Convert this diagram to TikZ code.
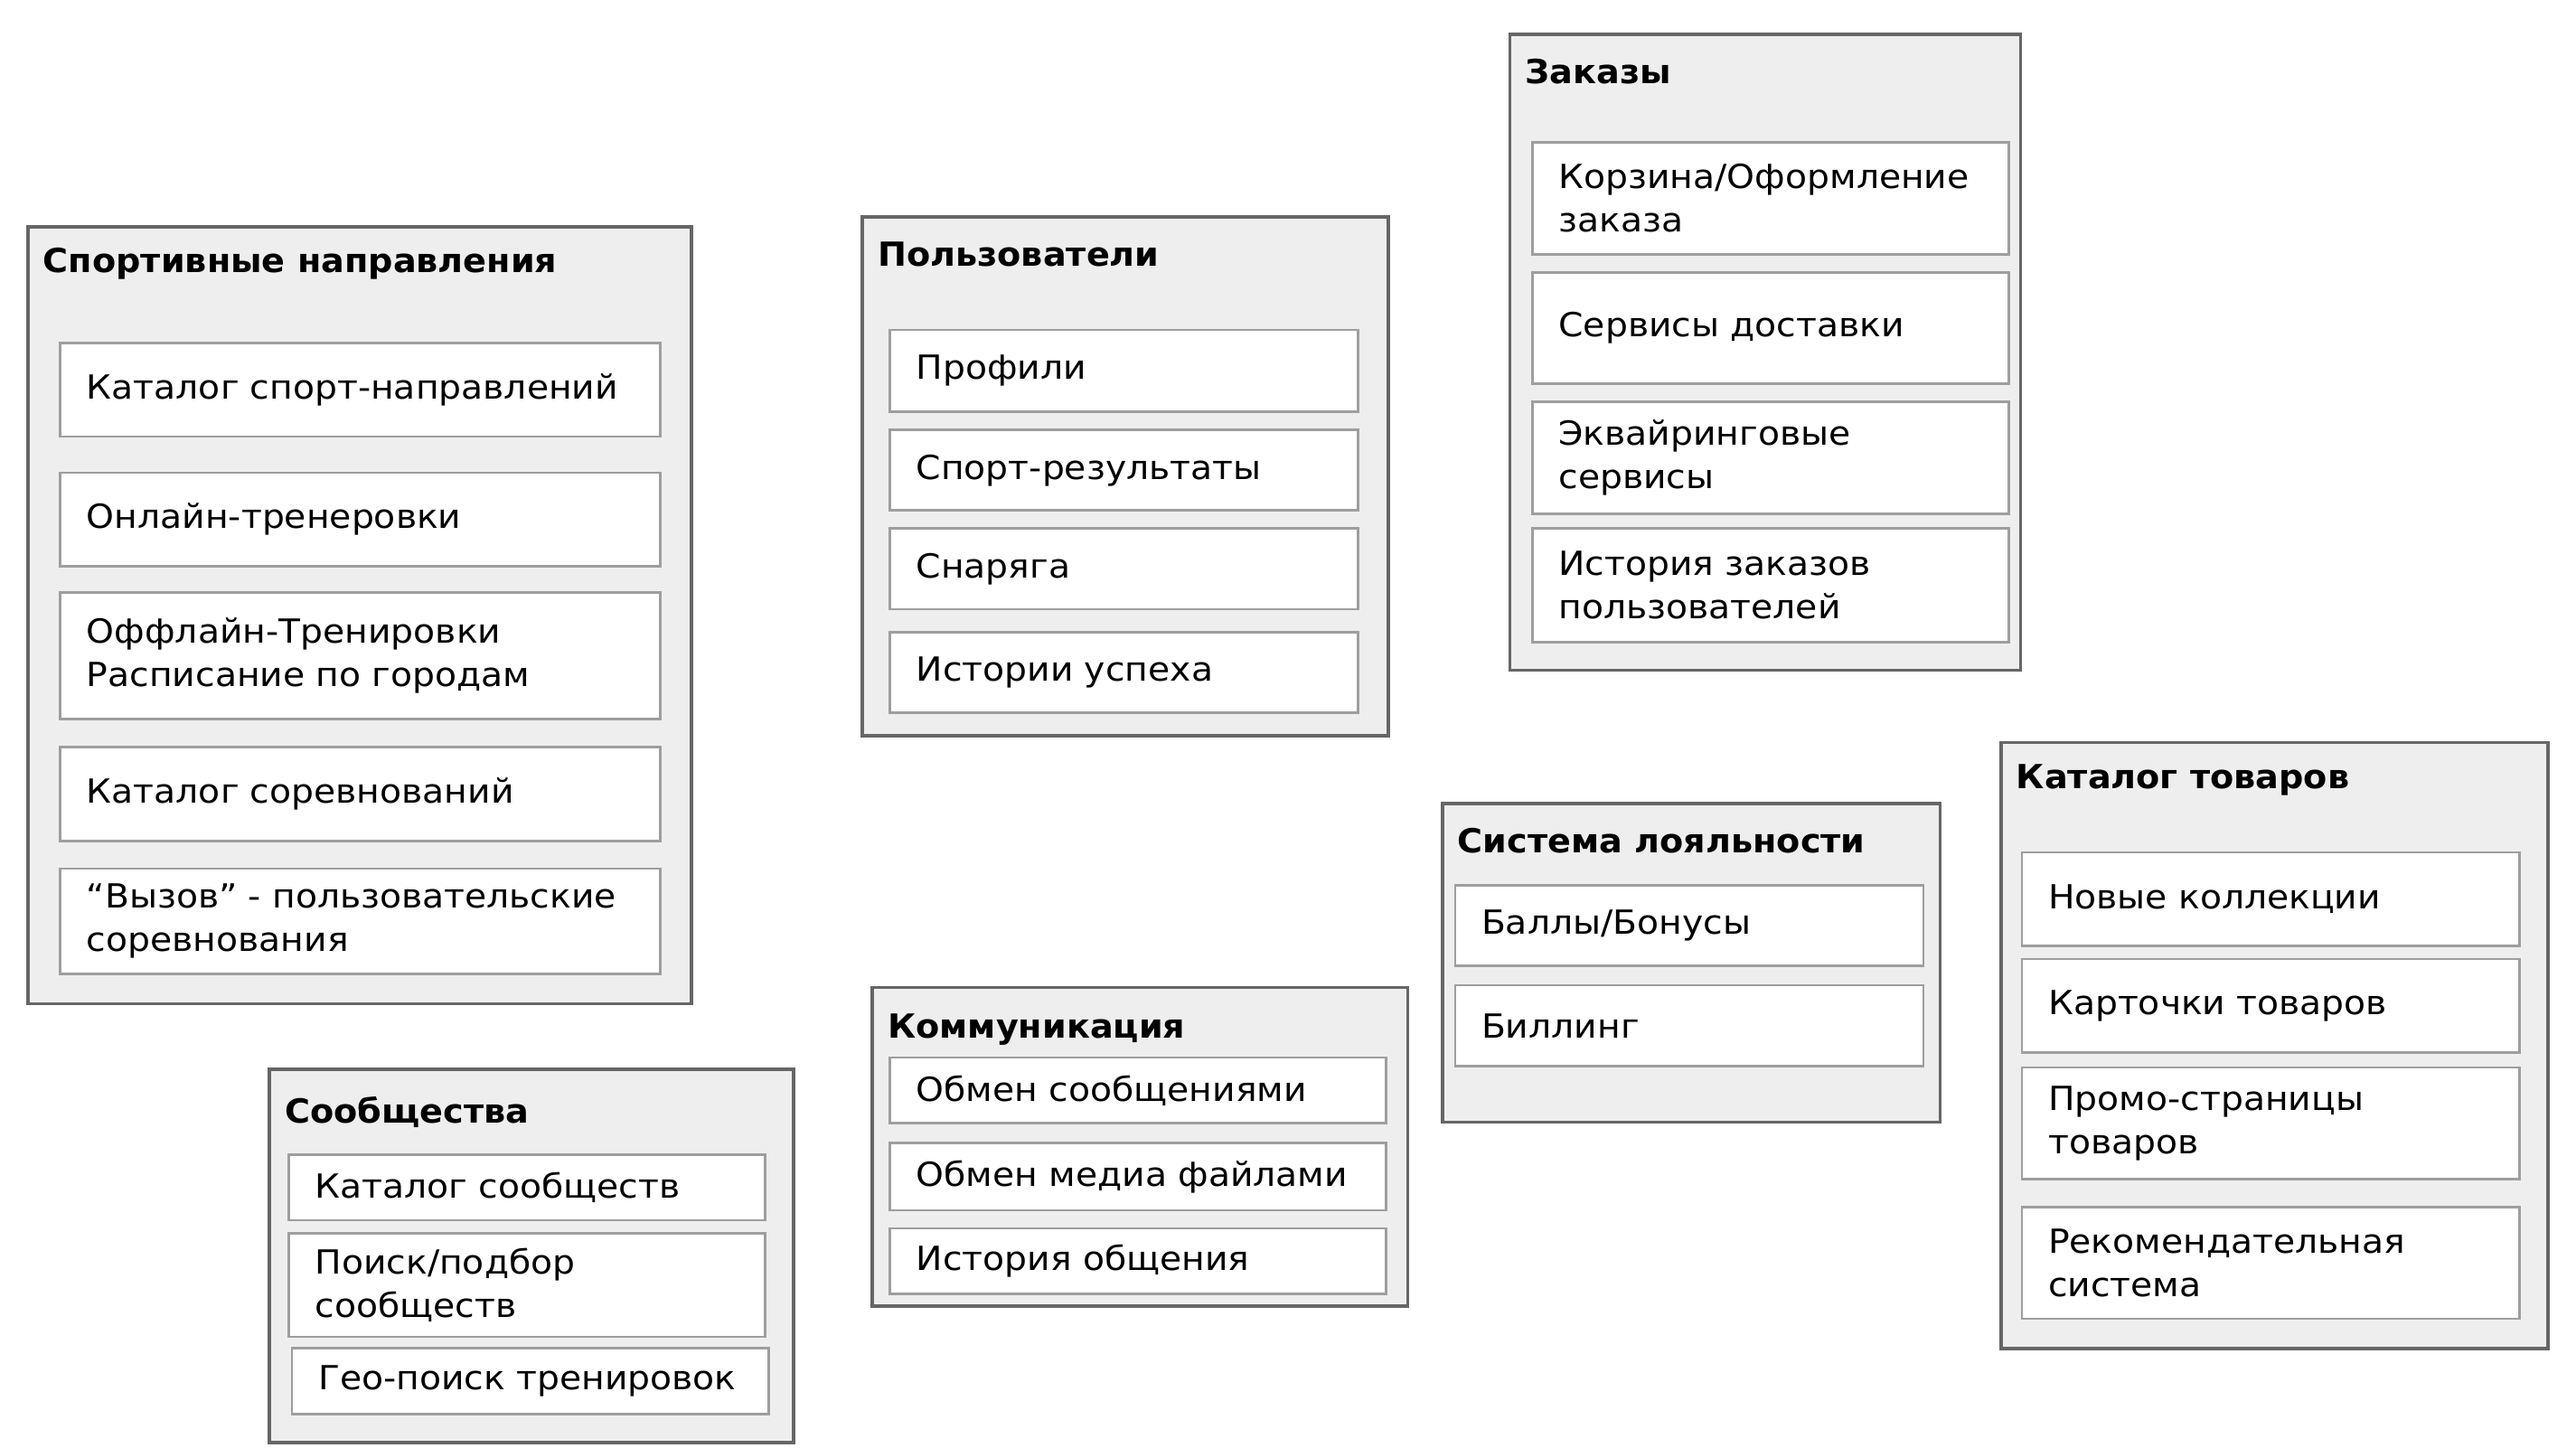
\documentclass[tikz,border=0pt]{standalone}
\usepackage{fontspec}
\setmainfont{DejaVu Sans}[FakeStretch=1.07]
\newfontfamily\titlefam{DejaVu Sans}[FakeStretch=1.04]
\usetikzlibrary{positioning}

\definecolor{grpfill}{HTML}{EEEEEE}
\definecolor{grpline}{HTML}{666666}
\definecolor{itemline}{HTML}{9E9E9E}

\newcommand{\itemfont}{\fontsize{11.5pt}{15pt}\selectfont}
\newcommand{\titlefont}{\titlefam\fontsize{11.5pt}{15pt}\selectfont\bfseries}

% group frame: name, x, y, width, height (layout units)
\newcommand{\grpbox}[5]{%
  \node[grp, minimum width={(#4)*0.02cm}, minimum height={(#5)*0.02cm}] (#1) at (#2,#3) {};}
% group title: name, x, y, text
\newcommand{\grptitle}[4]{%
  \node[ttl] (#1) at (#2,#3) {#4};}
% service box: name, x, y, width, height, text
\newcommand{\svcbox}[6]{%
  \node[svc, minimum width={(#4)*0.02cm}, text width={(#4-32)*0.02cm},
        minimum height={(#5)*0.02cm}] (#1) at (#2,#3) {#6};}

\tikzset{
  grp/.style={draw=grpline, fill=grpfill, line width=1.1pt, anchor=north west,
              inner sep=0pt, rectangle},
  ttl/.style={anchor=west, inner sep=0pt, font=\titlefont, yshift=-0.035cm},
  svc/.style={draw=itemline, fill=white, line width=0.85pt, anchor=north west,
              inner xsep=0.32cm, inner ysep=0pt, align=left, font=\itemfont,
              rectangle},
}

\begin{document}
\begin{tikzpicture}[x=0.02cm, y=-0.02cm]
  \fill[white] (0,0) rectangle (1568,881);
  \useasboundingbox (0,0) rectangle (1568,881);

  % Sports directions
  \grpbox{sport}{16}{137}{404}{473}
  \grptitle{sportT}{26}{159}{Спортивные направления}
  \svcbox{sport1}{36}{208}{365}{57}{Каталог спорт-направлений}
  \svcbox{sport2}{36}{287}{365}{57}{Онлайн-тренеровки}
  \svcbox{sport3}{36}{360}{365}{77}{Оффлайн-Тренировки\\Расписание по городам}
  \svcbox{sport4}{36}{454}{365}{57}{Каталог соревнований}
  \svcbox{sport5}{36}{528}{365}{64}{“Вызов” - пользовательские\\соревнования}

  % Users
  \grpbox{users}{524}{131}{320}{316}
  \grptitle{usersT}{534}{153}{Пользователи}
  \svcbox{users1}{541}{200}{285}{50}{Профили}
  \svcbox{users2}{541}{261}{285}{49}{Спорт-результаты}
  \svcbox{users3}{541}{321}{285}{49}{Снаряга}
  \svcbox{users4}{541}{384}{285}{49}{Истории успеха}

  % Orders
  \grpbox{orders}{918}{20}{311}{387}
  \grptitle{ordersT}{928}{42}{Заказы}
  \svcbox{orders1}{932}{86}{290}{68}{Корзина/Оформление\\заказа}
  \svcbox{orders2}{932}{165}{290}{68}{Сервисы доставки}
  \svcbox{orders3}{932}{244}{290}{68}{Эквайринговые\\сервисы}
  \svcbox{orders4}{932}{321}{290}{69}{История заказов\\пользователей}

  % Communities
  \grpbox{comm}{163}{650}{319}{227}
  \grptitle{commT}{173}{675}{Сообщества}
  \svcbox{comm1}{175}{702}{290}{40}{Каталог сообществ}
  \svcbox{comm2}{175}{750}{290}{63}{Поиск/подбор\\сообществ}
  \svcbox{comm3}{177}{820}{290}{40}{Гео-поиск тренировок}

  % Communication
  \grpbox{chat}{530}{600}{326}{194}
  \grptitle{chatT}{540}{625}{Коммуникация}
  \svcbox{chat1}{541}{643}{302}{40}{Обмен сообщениями}
  \svcbox{chat2}{541}{695}{302}{41}{Обмен медиа файлами}
  \svcbox{chat3}{541}{747}{302}{40}{История общения}

  % Loyalty
  \grpbox{loyal}{877}{488}{303}{194}
  \grptitle{loyalT}{887}{510}{Система лояльности}
  \svcbox{loyal1}{885}{538}{285}{49}{Баллы/Бонусы}
  \svcbox{loyal2}{885}{599}{285}{49}{Биллинг}

  % Product catalogue
  \grpbox{goods}{1217}{451}{333}{369}
  \grptitle{goodsT}{1227}{473}{Каталог товаров}
  \svcbox{goods1}{1230}{518}{303}{57}{Новые коллекции}
  \svcbox{goods2}{1230}{583}{303}{57}{Карточки товаров}
  \svcbox{goods3}{1230}{649}{303}{68}{Промо-страницы\\товаров}
  \svcbox{goods4}{1230}{734}{303}{68}{Рекомендательная\\система}
\end{tikzpicture}
\end{document}
